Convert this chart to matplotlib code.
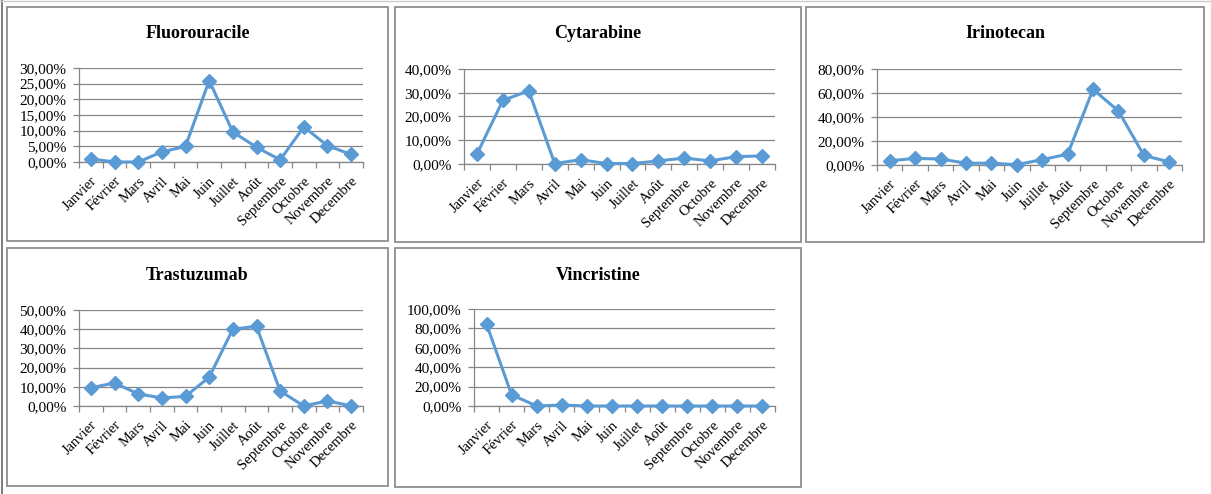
import matplotlib
matplotlib.use("Agg")
import matplotlib.pyplot as plt
from matplotlib.patches import Rectangle
from matplotlib.lines import Line2D
from matplotlib.ticker import FuncFormatter, MultipleLocator

plt.rcParams['font.family'] = ['Liberation Serif', 'DejaVu Serif']

months = ['Janvier', 'Février', 'Mars', 'Avril', 'Mai', 'Juin', 'Juillet',
          'Août', 'Septembre', 'Octobre', 'Novembre', 'Decembre']

# monthly shares, in percent
fluorouracile = [1.0, 0.0, 0.0, 3.2, 5.0, 26.0, 9.6, 4.7, 0.7, 11.2, 5.2, 2.4]
cytarabine = [4.2, 26.8, 30.8, 0.2, 1.8, 0.2, 0.2, 1.3, 2.5, 1.3, 3.1, 3.4]
irinotecan = [3.5, 5.5, 5.0, 1.5, 1.5, 0.3, 4.5, 9.0, 63.0, 45.0, 8.0, 2.5]
trastuzumab = [9.5, 12.0, 6.3, 4.2, 5.0, 15.0, 40.0, 41.5, 7.8, 0.0, 2.7, 0.0]
vincristine = [84.5, 11.5, 0.0, 1.0, 0.0, 0.0, 0.0, 0.0, 0.0, 0.0, 0.0, 0.0]

W, H = 1211, 494
fig = plt.figure(figsize=(W / 100, H / 100), dpi=100)

LINE = '#5B9BD5'
GRID = '#868686'


def box(l, t, r, b):
    # pixel box -> figure fraction [left, bottom, width, height]
    return [l / W, 1 - b / H, (r - l) / W, (b - t) / H]


def pct(v, pos):
    return f'{v:.2f}%'.replace('.', ',')


panels = [
    # name, data, ymax, step, panel frame, axes area
    ('Fluorouracile', fluorouracile, 30, 5, (7, 7, 388, 241), (79, 68, 363, 162)),
    ('Cytarabine', cytarabine, 40, 10, (395, 7, 801, 242), (464, 69, 775, 164)),
    ('Irinotecan', irinotecan, 80, 20, (806, 7, 1204, 242), (877, 69, 1182, 165)),
    ('Trastuzumab', trastuzumab, 50, 10, (7, 248, 388, 486), (79, 310, 363, 406)),
    ('Vincristine', vincristine, 100, 20, (395, 248, 801, 487), (474, 309, 775, 406)),
]

for name, data, ymax, step, frame, area in panels:
    l, t, r, b = frame
    fig.patches.append(Rectangle((l / W, 1 - b / H), (r - l) / W, (b - t) / H,
                                 transform=fig.transFigure, fill=False,
                                 edgecolor='#8f8f8f', linewidth=1.3))
    fig.text((l + r) / 2 / W, 1 - 33 / H if t < 100 else 1 - 275 / H, name,
             ha='center', va='center', fontsize=13, fontweight='bold')

    ax = fig.add_axes(box(*area))
    x = list(range(len(months)))
    ax.plot(x, data, color=LINE, linewidth=2.2, marker='D', markersize=7.5,
            clip_on=False, zorder=3)
    ax.set_xlim(-0.5, len(months) - 0.5)
    ax.set_ylim(0, ymax)
    ax.yaxis.set_major_locator(MultipleLocator(step))
    ax.yaxis.set_major_formatter(FuncFormatter(pct))
    ax.grid(axis='y', color=GRID, linewidth=0.9)
    ax.set_axisbelow(True)

    ax.set_xticks(x)
    ax.set_xticklabels(months, rotation=45, ha='right', rotation_mode='anchor',
                       fontsize=10.5)
    ax.set_xticks([i - 0.5 for i in range(len(months) + 1)], minor=True)
    ax.tick_params(axis='x', which='major', length=0, pad=9)
    ax.tick_params(axis='x', which='minor', length=4, color=GRID, width=0.9)
    ax.tick_params(axis='y', length=4, color=GRID, width=0.9, labelsize=11, pad=5)

    for s in ('top', 'right'):
        ax.spines[s].set_visible(False)
    for s in ('left', 'bottom'):
        ax.spines[s].set_color(GRID)
        ax.spines[s].set_linewidth(0.9)

# thin outer edges of the screenshot
fig.lines.append(Line2D([1.5 / W, 1.5 / W], [0, 1], transform=fig.transFigure,
                        color='#666666', linewidth=1.2))
fig.lines.append(Line2D([0, 1], [1 - 1 / H, 1 - 1 / H], transform=fig.transFigure,
                        color='#cccccc', linewidth=1))

fig.savefig('out.png', dpi=100, facecolor='white')
